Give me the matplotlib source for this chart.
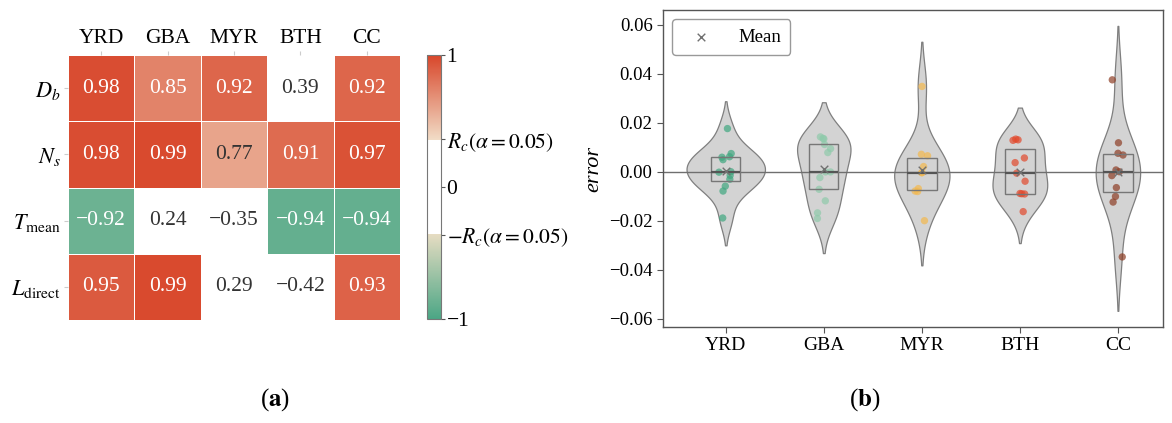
import numpy as np
import matplotlib
matplotlib.use('Agg')
import matplotlib.pyplot as plt
import matplotlib.colors as mcolors
import seaborn as sns
import pandas as pd

# ---------------- data ----------------
regions = ['YRD', 'GBA', 'MYR', 'BTH', 'CC']
factors = [r'$D_b$', r'$N_s$', r'$T_{\mathrm{mean}}$', r'$L_{\mathrm{direct}}$']
corr = np.array([
    [0.98, 0.85, 0.92, 0.39, 0.92],
    [0.98, 0.99, 0.77, 0.91, 0.97],
    [-0.92, 0.24, -0.35, -0.94, -0.94],
    [0.95, 0.99, 0.29, -0.42, 0.93],
])
r_crit = 0.632
cbar_ticks = [-1, -r_crit, 0, r_crit, 1]
cbar_ticklabels = ['\u22121', r'$-R_c(\alpha=0.05)$', '0', r'$R_c(\alpha=0.05)$', '1']

err_yrd = [0.0177, 0.0075, 0.0062, 0.0060, 0.0050, 0.0001, -0.0001, -0.0014, -0.0030, -0.0058, -0.0078, -0.0188]
err_gba = [0.0143, 0.0137, 0.0135, 0.0112, 0.0095, 0.0079, 0.0000, 0.0000, -0.0023, -0.0071, -0.0118, -0.0167, -0.0190]
err_myr = [0.0349, 0.0072, 0.0066, 0.0022, -0.0003, -0.0003, -0.0068, -0.0078, -0.0080, -0.0199]
err_bth = [0.0134, 0.0131, 0.0129, 0.0057, 0.0038, -0.0005, -0.0038, -0.0088, -0.0090, -0.0089, -0.0162]
err_cc = [0.0376, 0.0119, 0.0076, 0.0069, 0.0008, 0.0001, -0.0015, -0.0064, -0.0100, -0.0123, -0.0347]
err_data = [err_yrd, err_gba, err_myr, err_bth, err_cc]
point_colors = ['#3fa77f', '#8fcaab', '#f3b84e', '#e2492c', '#8e3e25']
yticks = [-0.06, -0.04, -0.02, 0.0, 0.02, 0.04, 0.06]

# ---------------- style ----------------
plt.rcParams['font.family'] = ['Liberation Serif', 'DejaVu Sans']
plt.rcParams['mathtext.fontset'] = 'stix'

fig = plt.figure(figsize=(11.72, 4.23), dpi=100)

# ---------------- (a) heatmap ----------------
P = 0.36
def fwd(v):
    return np.interp(v, [-1, -r_crit, r_crit, 1], [-1, -P, P, 1])
def inv(u):
    return np.interp(u, [-1, -P, P, 1], [-1, -r_crit, r_crit, 1])
norm = mcolors.FuncNorm((fwd, inv), vmin=-1, vmax=1)
lo = (1 - P) / 2
hi = 1 - lo
cmap = mcolors.LinearSegmentedColormap.from_list('rc', [
    (0.0, '#4ba685'), (lo, '#e6dcc2'), (lo, '#ffffff'), (hi, '#ffffff'),
    (hi, '#f1dcc6'), (1.0, '#d8462a')], N=512)

ax1 = fig.add_axes([68 / 1172, 1 - 320 / 423, 332 / 1172, 265 / 423])
mesh = ax1.pcolormesh(np.arange(len(regions) + 1), np.arange(len(factors) + 1), corr,
                      cmap=cmap, norm=norm, edgecolors='white', linewidth=0.6)
ax1.set_xlim(0, len(regions))
ax1.set_ylim(len(factors), 0)
for s in ax1.spines.values():
    s.set_visible(False)
ax1.xaxis.tick_top()
ax1.set_xticks(np.arange(len(regions)) + 0.5)
ax1.set_xticklabels(regions, fontsize=15.5)
ax1.set_yticks(np.arange(len(factors)) + 0.5)
ax1.set_yticklabels(factors, fontsize=16)
ax1.tick_params(length=3, color='#cccccc', pad=2)
for i in range(corr.shape[0]):
    for j in range(corr.shape[1]):
        v = corr[i, j]
        ax1.text(j + 0.5, i + 0.5, f'{v:.2f}'.replace('-', '\u2212'),
                 ha='center', va='center', fontsize=15.5,
                 color='white' if abs(v) >= 0.8 else '#333333')

cax = fig.add_axes([427 / 1172, 1 - 319 / 423, 14 / 1172, 264 / 423])
cb = fig.colorbar(mesh, cax=cax, ticks=cbar_ticks)
cb.set_ticklabels(cbar_ticklabels)
cb.ax.tick_params(labelsize=15.5, length=3, pad=1, color='#555555')
cb.outline.set_edgecolor('#777777')
cb.outline.set_linewidth(0.8)
cb.ax.minorticks_off()

# ---------------- (b) violins ----------------
ax2 = fig.add_axes([663 / 1172, 1 - 327 / 423, 500 / 1172, 317 / 423])
df = pd.DataFrame({
    'region': np.repeat(regions, [len(d) for d in err_data]),
    'err': np.concatenate(err_data),
})
sns.violinplot(data=df, x='region', y='err', order=regions, ax=ax2, color='#d3d3d3',
               inner=None, linewidth=0.9, linecolor='#7f7f7f', width=0.8,
               density_norm='area', cut=2, saturation=1)
ax2.axhline(0, color='#6f6f6f', lw=1.0, zorder=2)

rng = np.random.default_rng(7)
for i, (d, c) in enumerate(zip(err_data, point_colors)):
    xs = i + rng.uniform(-0.07, 0.07, len(d))
    ax2.scatter(xs, d, s=28, color=c, alpha=0.7, edgecolors='none', zorder=3)

ax2.boxplot(err_data, positions=range(len(regions)), widths=0.3, whis=0,
            showfliers=False, showcaps=False, patch_artist=True,
            boxprops=dict(facecolor='none', edgecolor='#777777', lw=1.0),
            medianprops=dict(color='#555555', lw=1.6),
            whiskerprops=dict(lw=0), manage_ticks=False, zorder=4)
means = [np.mean(d) for d in err_data]
ax2.scatter(range(len(regions)), means, marker='x', color='#707070', s=30,
            linewidths=1.0, zorder=5, label='Mean')

ax2.set_xlim(-0.64, 4.46)
ax2.set_ylim(-0.0633, 0.0661)
ax2.set_xticks(range(len(regions)))
ax2.set_xticklabels(regions, fontsize=14)
ax2.set_yticks(yticks)
ax2.set_yticklabels([f'{t:.2f}'.replace('-', '\u2212') for t in yticks], fontsize=13.5)
ax2.set_xlabel('')
ax2.set_ylabel('error', fontsize=16, style='italic', labelpad=4)
for s in ax2.spines.values():
    s.set_color('#555555')
    s.set_linewidth(1.0)
ax2.tick_params(color='#555555', length=4)
leg = ax2.legend(loc='upper left', fontsize=13.5, handletextpad=1.0,
                 borderpad=0.5, framealpha=1)
leg.get_frame().set_edgecolor('#999999')

fig.text(275 / 1172, 1 - 400 / 423, r'($\mathbf{a}$)', ha='center', va='center', fontsize=18)
fig.text(865 / 1172, 1 - 400 / 423, r'($\mathbf{b}$)', ha='center', va='center', fontsize=18)

fig.savefig('out.png', dpi=100)
